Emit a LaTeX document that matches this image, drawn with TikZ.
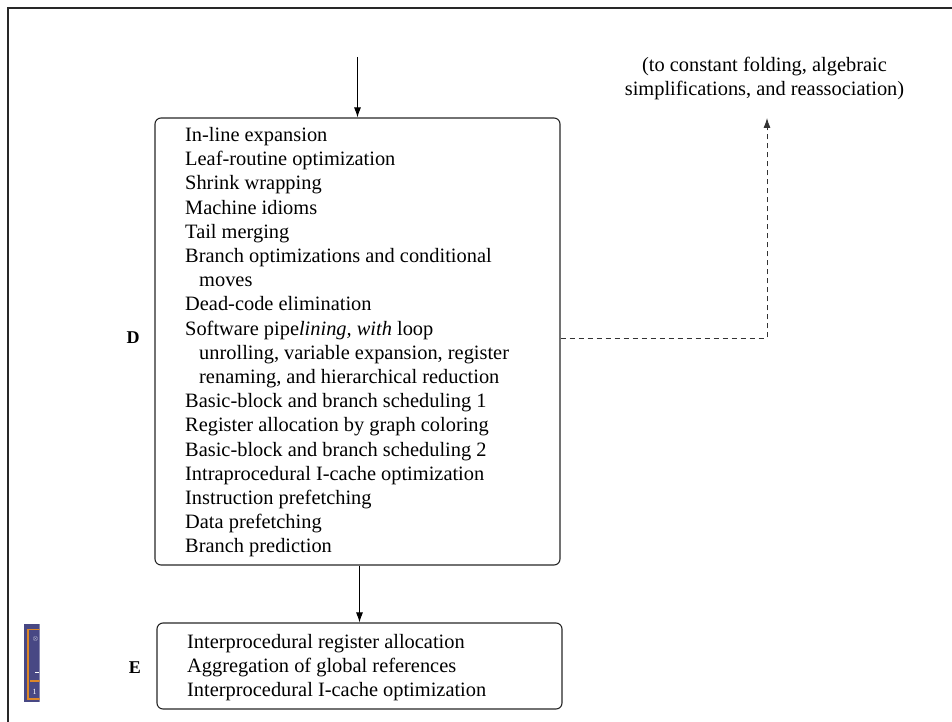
\documentclass[tikz,border=0pt]{standalone}
\usepackage{fontspec}
\setmainfont{Liberation Serif}
\usetikzlibrary{arrows.meta,calc}

\definecolor{framegray}{RGB}{40,40,40}
\definecolor{slateblue}{RGB}{72,72,132}
\definecolor{taborange}{RGB}{220,135,40}

\tikzset{
  frameline/.style={draw=framegray, line width=1.4pt},
  passbox/.style={draw=black!85, line width=1.1pt, rounded corners=6pt, rectangle, inner sep=0pt},
  passtext/.style={anchor=base west, inner sep=0pt, font=\fontsize{20.4}{24.2}\selectfont},
  notetext/.style={anchor=base, inner sep=0pt, font=\fontsize{20.4}{24.2}\selectfont},
  grouplabel/.style={inner sep=0pt, font=\fontsize{18}{20}\selectfont\bfseries},
  flow/.style={draw=black, line width=0.9pt, -{Latex[length=10pt,width=7pt]}},
  feedback/.style={draw=black!80, line width=0.8pt, dash pattern=on 5pt off 4pt, -{Latex[length=10pt,width=7pt]}}
}

\begin{document}
\begin{tikzpicture}[x=1pt,y=-1pt]
  \useasboundingbox (0,0) rectangle (952,722);

  % page frame
  \draw[frameline] (7,8) -- (952,8);
  \draw[frameline] (8,8) -- (8,722);

  % small tab at the left edge
  \begin{scope}
    \clip (24,624) rectangle (39.5,703);
    \fill[slateblue] (24,624) rectangle (45,702);
    \draw[taborange, line width=1.8pt] (27.7,629.5) rectangle (50,699);
    \draw[taborange, line width=1.5pt] (30,681) -- (50,681);
    \node[text=white, inner sep=0pt, font=\fontsize{6}{6}\selectfont] (tabmark) at (35.5,639) {$\otimes$};
    \draw[white, line width=0.9pt] (35,672.5) -- (39,672.5);
    \node[text=white, inner sep=0pt, font=\fontsize{8}{8}\selectfont, anchor=base] (tabnum) at (34.5,694) {1};
  \end{scope}

  % group D
  \node[passbox, minimum width=405pt, minimum height=447pt] (D) at (357.5,341.5) {};
  \node[grouplabel] (Dlabel) at (133,338) {D};
  \foreach \txt [count=\i] in {
      In-line expansion,
      Leaf-routine optimization,
      Shrink wrapping,
      Machine idioms,
      Tail merging,
      Branch optimizations and conditional,
      \hspace*{14pt}moves,
      Dead-code elimination,
      Software pipe\textit{lining{,} with} loop,
      \hspace*{14pt}unrolling{,} variable expansion{,} register,
      \hspace*{14pt}renaming{,} and hierarchical reduction,
      Basic-block and branch scheduling 1,
      Register allocation by graph coloring,
      Basic-block and branch scheduling 2,
      Intraprocedural I-cache optimization,
      Instruction prefetching,
      Data prefetching,
      Branch prediction}
    \node[passtext] (d\i) at (185,{141.5+(\i-1)*24.2}) {\txt};

  % group E
  \node[passbox, minimum width=405pt, minimum height=86pt] (E) at (359.5,666) {};
  \node[grouplabel] (Elabel) at (135,668) {E};
  \node[passtext] (e1) at (187,648) {Interprocedural register allocation};
  \node[passtext] (e2) at (187,672) {Aggregation of global references};
  \node[passtext] (e3) at (187,696) {Interprocedural I-cache optimization};

  % note on the feedback path
  \node[notetext] (note1) at (764.5,72) {(to constant folding, algebraic};
  \node[notetext] (note2) at (764.5,96) {simplifications, and reassociation)};

  % connectors
  \coordinate (entry) at (357.5,57);
  \draw[flow] (entry) -- (D.north);
  \draw[flow] (D.south -| E.north) -- (E.north);

  \coordinate (bend) at (767,338);
  \coordinate (back) at (767,118);
  \draw[feedback] (D.east |- bend) -- (bend) -- (back);
\end{tikzpicture}
\end{document}
